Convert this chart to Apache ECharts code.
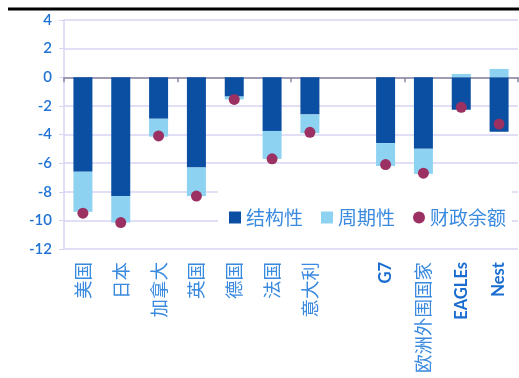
<!DOCTYPE html>
<html><head><meta charset="utf-8">
<script src="https://cdn.jsdelivr.net/npm/echarts@6/dist/echarts.min.js"></script>
<style>html,body{margin:0;padding:0;background:#fff}#c{width:519px;height:378px}</style>
</head><body><div id="c"></div>
<script>
var categories = ['美国','日本','加拿大','英国','德国','法国','意大利','','G7','欧洲外围国家','EAGLEs','Nest'];
var structural = [-6.6,-8.3,-2.9,-6.3,-1.35,-3.75,-2.6,null,-4.6,-5.0,-2.27,-3.8];
var cyclical   = [-2.8,-1.85,-1.25,-2.0,-0.2,-1.95,-1.3,null,-1.6,-1.75,0.23,0.58];
var balance    = [-9.5,-10.15,-4.1,-8.3,-1.55,-5.7,-3.85,null,-6.1,-6.7,-2.1,-3.27];
var yTicks = {min:-12, max:4, interval:2};
var seriesNames = ['结构性','周期性','财政余额'];

var latin = {G7:1, EAGLEs:1, Nest:1};
var labelData = categories.map(function(c){
  return latin[c] ? {value:c, textStyle:{fontFamily:'Lato, "Open Sans", sans-serif', fontWeight:'bold', fontSize:16.5, color:'#1a6dd0'}}
                  : {value:c, textStyle:{fontFamily:'"Noto Sans CJK SC", sans-serif', fontSize:18.5, color:'#3a8ae0'}};
});
var chart = echarts.init(document.getElementById('c'), null, {renderer:'canvas'});
chart.setOption({
  animation:false,
  graphic:[{type:'line', shape:{x1:8,y1:9,x2:519,y2:9}, style:{stroke:'#000', lineWidth:3}}],
  grid:{left:64, right:1, top:20, bottom:129, containLabel:false},
  legend:{
    data:[{name:seriesNames[0], icon:'rect'},{name:seriesNames[1], icon:'rect'},{name:seriesNames[2], icon:'circle'}],
    left:218, top:182, width:320, padding:[26,6,14,11], backgroundColor:'#fff',
    itemWidth:12, itemHeight:12, itemGap:18,
    textStyle:{fontFamily:'"Noto Sans CJK SC", sans-serif', fontSize:19, color:'#3a8ae0'}
  },
  xAxis:[{
    type:'category', data:categories, position:'bottom',
    axisLine:{onZero:true, lineStyle:{color:'#a09cb4', width:2}},
    axisTick:{show:true, length:5, lineStyle:{color:'#8a86a8', width:1.5}},
    axisLabel:{show:false}, splitLine:{show:false}
  },{
    type:'category', data:labelData, position:'bottom',
    axisLine:{show:false, onZero:false}, axisTick:{show:false},
    axisLabel:{rotate:90, margin:13, interval:0}
  }],
  yAxis:{
    type:'value', min:yTicks.min, max:yTicks.max, interval:yTicks.interval,
    axisLine:{show:true, lineStyle:{color:'#d6d4f2', width:1.5}},
    axisTick:{show:true, length:5, lineStyle:{color:'#d6d4f2'}},
    splitLine:{lineStyle:{color:'#d6d4f2', width:1.5}},
    axisLabel:{margin:12, fontFamily:'Lato, "Open Sans", sans-serif', fontSize:15, fontWeight:600, color:'#1f72d4'}
  },
  series:[
    {name:seriesNames[0], type:'bar', stack:'s', data:structural, barWidth:19, itemStyle:{color:'#0b4fa3'}},
    {name:seriesNames[1], type:'bar', stack:'s', data:cyclical, barWidth:19, itemStyle:{color:'#8ed2f2'}},
    {name:seriesNames[2], type:'scatter', data:balance, symbolSize:11, itemStyle:{color:'#9b3062', opacity:1}, z:5}
  ]
});
</script></body></html>
